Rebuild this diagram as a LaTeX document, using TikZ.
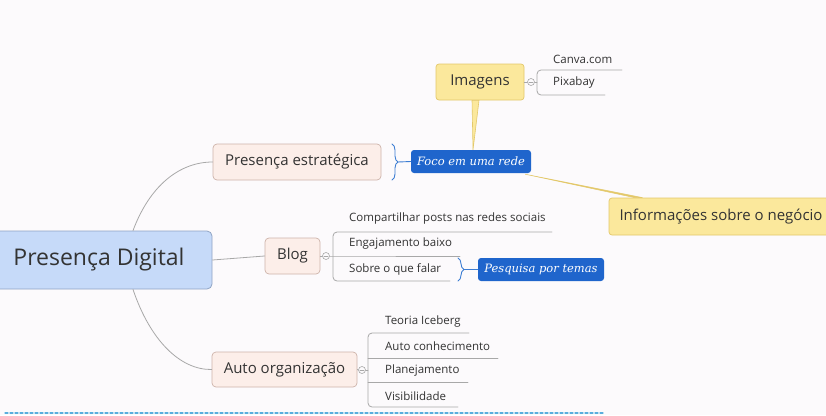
\documentclass[tikz,border=0pt]{standalone}
\usepackage{fontspec}
\setmainfont{Open Sans}
\newfontfamily\notefont{DejaVu Serif}
\usepackage{xcolor}
\usetikzlibrary{backgrounds,decorations.pathreplacing}
\definecolor{bgc}{HTML}{FCFAFC}
\definecolor{rootfill}{HTML}{C6DAF9}
\definecolor{rootdraw}{HTML}{8FA4C4}
\definecolor{mainfill}{HTML}{FCEEE9}
\definecolor{maindraw}{HTML}{CDB3AA}
\definecolor{notefill}{HTML}{1F65CC}
\definecolor{calfill}{HTML}{FBE89C}
\definecolor{caldraw}{HTML}{E3C86A}
\definecolor{linec}{HTML}{A8A8A8}
\definecolor{bracec}{HTML}{3C7DD3}
\definecolor{txt}{HTML}{333333}
\definecolor{dashc}{HTML}{5AAEDD}
\tikzset{
  root/.style={rectangle,rounded corners=5pt,fill=rootfill,draw=rootdraw,line width=0.8pt,text=txt,font=\fontsize{23}{26}\selectfont},
  topic/.style={rectangle,rounded corners=4pt,fill=mainfill,draw=maindraw,line width=0.7pt,text=txt,font=\fontsize{15}{18}\selectfont},
  callbox/.style={rectangle,rounded corners=3pt,fill=calfill,draw=caldraw,line width=0.7pt,text=txt,font=\fontsize{15}{18}\selectfont},
  notebox/.style={rectangle,rounded corners=3pt,fill=notefill,text=white,font=\notefont\itshape\fontsize{11.5}{14}\selectfont},
  leaf/.style={anchor=west,inner sep=0pt,text=txt,font=\fontsize{11.5}{14}\selectfont},
  dot/.style={circle,draw=linec,fill=bgc,minimum size=7pt,inner sep=0pt,line width=0.6pt},
  conn/.style={draw=linec,line width=0.8pt},
  brc/.style={draw=bracec,line width=0.9pt,decorate,decoration={brace,amplitude=6pt}}
}
\begin{document}
\begin{tikzpicture}[x=1pt,y=-1pt,line cap=round,line join=round]
\useasboundingbox (0,0) rectangle (826,415);
\clip (0,0) rectangle (826,415);
% main topics
\node[root,minimum width=226pt,minimum height=58pt] (central) at (99,260) {Presença Digital};
\node[topic,minimum width=168pt,minimum height=36pt] (estrat) at (297,162) {Presença estratégica};
\node[topic,minimum width=55pt,minimum height=36pt] (blog) at (292.5,256) {Blog};
\node[topic,minimum width=145pt,minimum height=35pt] (auto) at (284.5,369.5) {Auto organização};
% notes and callouts
\node[notebox,minimum width=120pt,minimum height=23pt] (foco) at (471,161.5) {Foco em uma rede};
\node[notebox,minimum width=126pt,minimum height=23pt] (pesq) at (541,269.5) {Pesquisa por temas};
\node[callbox,minimum width=88pt,minimum height=36pt] (imagens) at (480,82) {Imagens};
\node[callbox,minimum width=224pt,minimum height=37pt] (info) at (721,216.5) {Informações sobre o negócio};
\begin{scope}[on background layer]
\fill[bgc] (0,0) rectangle (826,415);
\filldraw[fill=calfill,draw=caldraw,line width=0.6pt] ([xshift=-8pt]imagens.south) -- ([xshift=2pt]foco.north) -- ([xshift=-1pt]imagens.south) -- cycle;
\filldraw[fill=caldraw,draw=caldraw,line width=0.5pt] ([xshift=-6pt,yshift=-1pt]foco.south east) -- ([xshift=26pt]info.north west) -- ([xshift=34pt]info.north west) -- cycle;
\end{scope}
% branches
\draw[conn] ([xshift=34pt]central.north) .. controls (150,185) and (180,162) .. (estrat.west);
\draw[conn] ([xshift=34pt]central.south) .. controls (150,340) and (180,370) .. (auto.west);
\draw[conn] (central.east) -- (blog.west);
\node[dot] (blogdot) at (326,256) {};
\node[dot] (imgdot) at (531,82) {};
\node[dot] (autodot) at (362,370) {};
\foreach \d in {blogdot,imgdot,autodot}
  \draw[linec,line width=0.6pt] ([xshift=-2pt]\d.center) -- ([xshift=2pt]\d.center);
\draw[conn] (blog.east) -- (blogdot.west);
\draw[conn] (imagens.east) -- (imgdot.west);
\draw[conn] (auto.east) -- (autodot.west);
% blog
\draw[conn,rounded corners=4pt] (552,232) -- (333,232) -- (333,281) -- (450,281);
\draw[conn] (blogdot.east) -- (333,256) -- (460,256);
\node[leaf] (compart) at (349,219) {Compartilhar posts nas redes sociais};
\node[leaf] (engaj) at (349,244) {Engajamento baixo};
\node[leaf] (sobre) at (349,269) {Sobre o que falar};
% imagens
\draw[conn,rounded corners=4pt] (622,70) -- (537,70) -- (537,95) -- (605,95);
\draw[conn] (imgdot.east) -- (537,82);
\node[leaf] (canva) at (553,59) {Canva.com};
\node[leaf] (pixa) at (553,83) {Pixabay};
% auto organizacao
\draw[conn,rounded corners=4pt] (469,333) -- (368,333) -- (368,407) -- (458,407);
\draw[conn] (368,358) -- (498,358);
\draw[conn] (368,382) -- (468,382);
\draw[conn] (autodot.east) -- (368,370);
\node[leaf] (teoria) at (385,322) {Teoria Iceberg};
\node[leaf] (autocon) at (385,346) {Auto conhecimento};
\node[leaf] (plan) at (385,371) {Planejamento};
\node[leaf] (visib) at (385,396) {Visibilidade};
% braces
\draw[brc] (392,144) -- (392,180);
\draw[draw=bracec,line width=0.9pt] (398,162) -- (foco.west);
\draw[brc] (458,258) -- (458,281);
\draw[draw=bracec,line width=0.9pt] (464,269.5) -- (pesq.west);
\draw[dashc,densely dashed,line width=1.2pt] (5,413) -- (603,413);
\end{tikzpicture}
\end{document}
